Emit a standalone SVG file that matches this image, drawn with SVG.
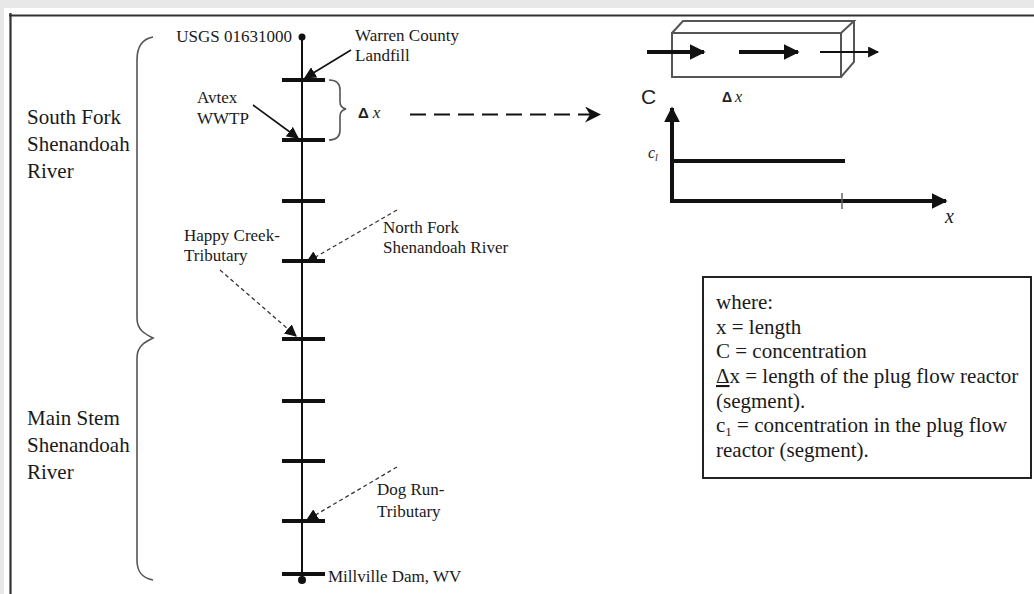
<svg xmlns="http://www.w3.org/2000/svg" width="1034" height="594" viewBox="0 0 1034 594">
<style>
.t{font-family:"Liberation Serif","Times New Roman",serif;fill:#1a1a1a}
.s17{font-size:17px}
.s21{font-size:21px}
.sans{font-family:"Liberation Sans",Arial,sans-serif;fill:#222}
.it{font-style:italic}
.tick{stroke:#111;stroke-width:4}
.solid{stroke:#111;stroke-width:1.6;fill:none}
.dash{stroke:#333;stroke-width:1.3;stroke-dasharray:4 3;fill:none}
.brace{stroke:#555;stroke-width:1.6;fill:none}
.box{stroke:#555;stroke-width:2;fill:none}
</style>
<defs>
<marker id="ah" viewBox="0 0 10 10" refX="9" refY="5" markerWidth="12" markerHeight="12" markerUnits="userSpaceOnUse" orient="auto">
<path d="M0,0 L10,5 L0,10 Z" fill="#111"/>
</marker>
<marker id="ah2" viewBox="0 0 10 10" refX="9" refY="5" markerWidth="4" markerHeight="4" orient="auto">
<path d="M0,0 L10,5 L0,10 Z" fill="#111"/>
</marker>
<marker id="ah3" viewBox="0 0 10 10" refX="9" refY="5" markerWidth="12" markerHeight="11" markerUnits="userSpaceOnUse" orient="auto">
<path d="M0,0 L10,5 L0,10 Z" fill="#111"/>
</marker>
<marker id="chev" viewBox="0 0 16 16" refX="15" refY="8" markerWidth="16" markerHeight="16" markerUnits="userSpaceOnUse" orient="auto">
<path d="M0,0 L16,8 L0,16 L5,8 Z" fill="#111"/>
</marker>
</defs>
<rect x="0" y="0" width="1034" height="594" fill="#e8e8e8"/>
<rect x="4" y="8" width="1030" height="586" fill="#ffffff"/>
<g id="frame">
<line x1="9" y1="15.5" x2="1034" y2="15.5" stroke="#333" stroke-width="2.2"/>
<line x1="10.5" y1="13" x2="10.5" y2="594" stroke="#333" stroke-width="2.2"/>
</g>

<g id="river">
<line x1="302" y1="37" x2="302" y2="581" stroke="#111" stroke-width="2"/>
<circle cx="302" cy="37" r="3.5" fill="#111"/>
<circle cx="302" cy="580" r="4" fill="#111"/>
<line class="tick" x1="282" y1="80" x2="325" y2="80"/>
<line class="tick" x1="282" y1="140" x2="325" y2="140"/>
<line class="tick" x1="282" y1="201" x2="325" y2="201"/>
<line class="tick" x1="282" y1="261" x2="325" y2="261"/>
<line class="tick" x1="282" y1="339" x2="325" y2="339"/>
<line class="tick" x1="282" y1="401" x2="325" y2="401"/>
<line class="tick" x1="282" y1="461" x2="325" y2="461"/>
<line class="tick" x1="282" y1="521" x2="325" y2="521"/>
<line class="tick" x1="282" y1="574" x2="325" y2="574"/>
</g>

<g id="braces">
<path class="brace" d="M153,37 C142,39 137,46 137,60 L137,318 C137,330 145,334 153,338 C145,342 137,346 137,358 L137,560 C137,572 142,578 153,580"/>
<path class="brace" d="M329,80 C336,80 340,83 340,90 L340,102 C340,106 342,108 346,109 C342,110 340,112 340,116 L340,130 C340,137 336,140 329,140"/>
</g>

<g id="labels-left">
<text class="t s21" x="27" y="124">South Fork</text>
<text class="t s21" x="27" y="151">Shenandoah</text>
<text class="t s21" x="27" y="178">River</text>
<text class="t s21" x="27" y="425">Main Stem</text>
<text class="t s21" x="27" y="452">Shenandoah</text>
<text class="t s21" x="27" y="479">River</text>
</g>

<g id="node-usgs"><text class="t s17" x="292" y="42" text-anchor="end">USGS 01631000</text></g>
<g id="node-warren"><text class="t s17" x="355" y="41">Warren County</text><text class="t s17" x="355" y="61">Landfill</text></g>
<g id="node-avtex"><text class="t s17" x="197" y="103">Avtex</text><text class="t s17" x="197" y="124">WWTP</text></g>
<g id="node-happy"><text class="t s17" x="184" y="241">Happy Creek-</text><text class="t s17" x="184" y="261">Tributary</text></g>
<g id="node-northfork"><text class="t s17" x="383" y="233">North Fork</text><text class="t s17" x="383" y="253">Shenandoah River</text></g>
<g id="node-dogrun"><text class="t s17" x="377" y="495">Dog Run-</text><text class="t s17" x="377" y="517">Tributary</text></g>
<g id="node-millville"><text class="t s17" x="328" y="582">Millville Dam, WV</text></g>
<g id="node-dx"><text x="358" y="118" font-size="17"><tspan class="sans" font-weight="bold" font-size="15">Δ</tspan><tspan class="t it" fill="#555" dx="4">x</tspan></text></g>

<g id="connectors">
<line class="solid" x1="351" y1="50" x2="305" y2="78" marker-end="url(#ah)"/>
<line class="solid" x1="253" y1="105" x2="298" y2="138" marker-end="url(#ah)"/>
<line class="dash" x1="397" y1="210" x2="307" y2="262" marker-end="url(#ah)"/>
<line class="dash" x1="220" y1="270" x2="296" y2="336" marker-end="url(#ah)"/>
<line class="dash" x1="397" y1="467" x2="307" y2="520" marker-end="url(#ah)"/>
<line x1="410" y1="114.5" x2="600" y2="114.5" stroke="#111" stroke-width="2" stroke-dasharray="16 8" marker-end="url(#chev)"/>
</g>

<g id="reactor">
<path class="box" d="M672,33 L841,33 L841,77 L672,77 Z"/>
<path class="box" d="M672,33 L683,21 L854,21 L841,33 M854,21 L854,62 L841,77"/>
<line x1="647" y1="52" x2="704" y2="52" stroke="#111" stroke-width="4" marker-end="url(#ah2)"/>
<line x1="739" y1="52" x2="798" y2="52" stroke="#111" stroke-width="4" marker-end="url(#ah2)"/>
<line x1="820" y1="52" x2="878" y2="52" stroke="#111" stroke-width="2" marker-end="url(#ah3)"/>
</g>

<g id="graph">
<text class="sans" x="641" y="104" font-size="21">C</text>
<text x="722" y="102" font-size="16"><tspan class="sans" font-weight="bold" font-size="14">Δ</tspan><tspan class="t it" fill="#555" dx="3">x</tspan></text>
<line x1="672" y1="203" x2="672" y2="108" stroke="#111" stroke-width="4" marker-end="url(#ah2)"/>
<line x1="670" y1="201" x2="946" y2="201" stroke="#111" stroke-width="4" marker-end="url(#ah2)"/>
<line x1="672" y1="161" x2="845" y2="161" stroke="#111" stroke-width="4"/>
<line x1="842" y1="193" x2="842" y2="209" stroke="#666" stroke-width="1.5"/>
<text class="t it" x="648" y="158" font-size="16" fill="#666">c<tspan font-size="10" dy="3">l</tspan></text>
<text class="t it" x="945" y="223" font-size="20">x</text>
</g>

<g id="legend">
<rect x="703" y="277" width="328" height="201" fill="#fff" stroke="#222" stroke-width="2"/>
<text class="t s21" x="716" y="309">where:</text>
<text class="t s21" x="716" y="334">x = length</text>
<text class="t s21" x="716" y="358">C = concentration</text>
<text class="t s21" x="716" y="383"><tspan text-decoration="underline">Δ</tspan>x = length of the plug flow reactor</text>
<text class="t s21" x="716" y="408">(segment).</text>
<text class="t s21" x="716" y="432">c<tspan font-size="13" dy="4">1</tspan><tspan dy="-4"> = concentration in the plug flow</tspan></text>
<text class="t s21" x="716" y="457">reactor (segment).</text>
</g>
</svg>
